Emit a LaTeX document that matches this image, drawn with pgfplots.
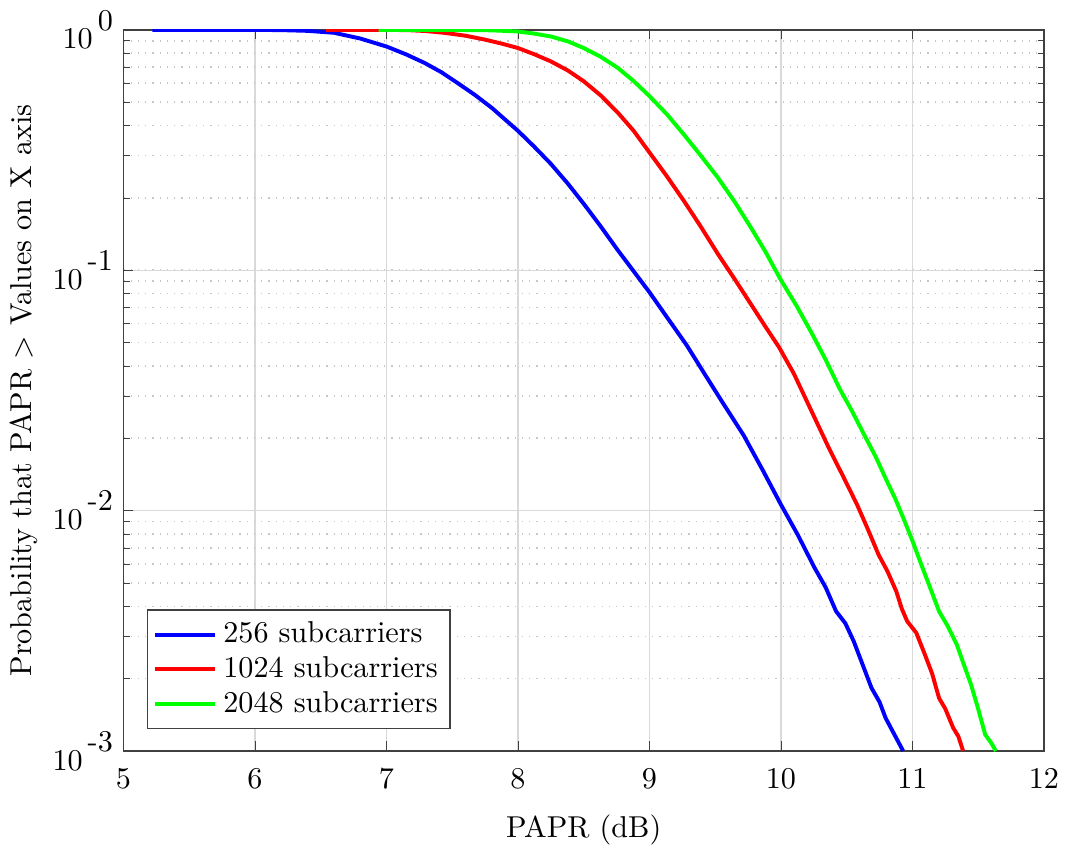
\documentclass[border=0pt]{standalone}
\usepackage{pgfplots}
\pgfplotsset{compat=1.18}
\begin{document}
\begin{tikzpicture}
\begin{semilogyaxis}[
  scale only axis,
  width=305pt, height=239pt,
  xmin=5, xmax=12, ymin=1e-3, ymax=1,
  xtick={5,6,7,8,9,10,11,12},
  ytick={1e-3,1e-2,1e-1,1},
  yticklabels={{10\raisebox{0.62em}{\,-3}},{10\raisebox{0.62em}{\,-2}},{10\raisebox{0.62em}{\,-1}},{10\raisebox{0.62em}{\,0}}},
  xticklabel style={yshift=-2.3pt},
  grid=both,
  major grid style={gray!30, line width=0.4pt},
  minor grid style={gray!45, dotted, line width=0.5pt},
  minor x tick num=0,
  axis line style={black!75, line width=0.5pt},
  tick style={black!75},
  major tick length=3.2pt, minor tick length=2pt,
  xlabel={PAPR (dB)},
  ylabel={Probability that PAPR $>$ Values on X axis},
  xlabel style={yshift=-2pt},
  ylabel style={yshift=-2pt},
  legend style={at={(0.025,0.03)}, anchor=south west, draw=black!75, line width=0.5pt, inner sep=2pt, row sep=-1pt, font=\normalsize},
  legend cell align=left,
  legend image code/.code={\draw[#1, line width=1.3pt] (0cm,0cm) -- (0.7cm,0cm);},
]
\addplot[blue, line width=1.3pt] coordinates {
(5.22,1) (5.6,1) (6.0,0.999) (6.2,0.997) (6.4,0.99) (6.6,0.972) (6.8,0.92)
(7.0,0.852) (7.15,0.79) (7.29,0.728) (7.42,0.665) (7.54,0.601) (7.67,0.537)
(7.8,0.474) (8.0,0.38) (8.12,0.328) (8.25,0.277) (8.38,0.229) (8.5,0.189)
(8.63,0.152) (8.76,0.121) (8.88,0.099) (9.0,0.081) (9.14,0.063) (9.284,0.0487)
(9.42,0.037) (9.554,0.0283) (9.716,0.0206) (9.86,0.0148) (10.0,0.0106)
(10.13,0.0079) (10.257,0.00577) (10.34,0.0048) (10.42,0.00381) (10.49,0.0034)
(10.554,0.00286) (10.62,0.0023) (10.689,0.00183) (10.75,0.0016) (10.797,0.00137)
(10.86,0.00118) (10.93,0.001)
};
\addlegendentry{256 subcarriers}
\addplot[red, line width=1.3pt] coordinates {
(6.54,1) (6.9,1) (7.16,0.997) (7.3,0.988) (7.45,0.97) (7.6,0.945) (7.75,0.91)
(7.88,0.875) (8.0,0.84) (8.12,0.793) (8.25,0.739) (8.38,0.677) (8.5,0.611) (8.63,0.533)
(8.76,0.452) (8.88,0.38) (9.0,0.309) (9.13,0.247) (9.26,0.195) (9.39,0.152)
(9.52,0.117) (9.65,0.0915) (9.77,0.0725) (9.88,0.0585) (9.986,0.0478) (10.1,0.037)
(10.2,0.0283) (10.365,0.0182) (10.47,0.014) (10.58,0.01057) (10.66,0.0084)
(10.743,0.00655) (10.81,0.0056) (10.878,0.00461) (10.92,0.0039) (10.96,0.00347)
(11.03,0.0031) (11.095,0.00252) (11.15,0.0021) (11.203,0.00166) (11.25,0.0015)
(11.31,0.00125) (11.35,0.00115) (11.386,0.001)
};
\addlegendentry{1024 subcarriers}
\addplot[green, line width=1.3pt] coordinates {
(6.94,1) (7.5,0.999) (7.8,0.995) (8.0,0.984) (8.12,0.965) (8.25,0.938)
(8.38,0.895) (8.5,0.84) (8.63,0.772) (8.76,0.694) (8.88,0.612) (9.0,0.53)
(9.13,0.447) (9.26,0.368) (9.39,0.3) (9.52,0.243) (9.65,0.192) (9.77,0.151)
(9.88,0.12) (10.0,0.091) (10.12,0.071) (10.23,0.0553) (10.34,0.0425)
(10.446,0.0322) (10.54,0.026) (10.635,0.0206) (10.72,0.0168) (10.797,0.0136)
(10.87,0.0112) (10.932,0.00929) (11.0,0.0075) (11.068,0.00596) (11.14,0.0047)
(11.203,0.00381) (11.27,0.0033) (11.338,0.00277) (11.39,0.0023) (11.446,0.00189)
(11.5,0.0015) (11.554,0.00117) (11.6,0.00108) (11.635,0.001)
};
\addlegendentry{2048 subcarriers}
\end{semilogyaxis}
\end{tikzpicture}
\end{document}
